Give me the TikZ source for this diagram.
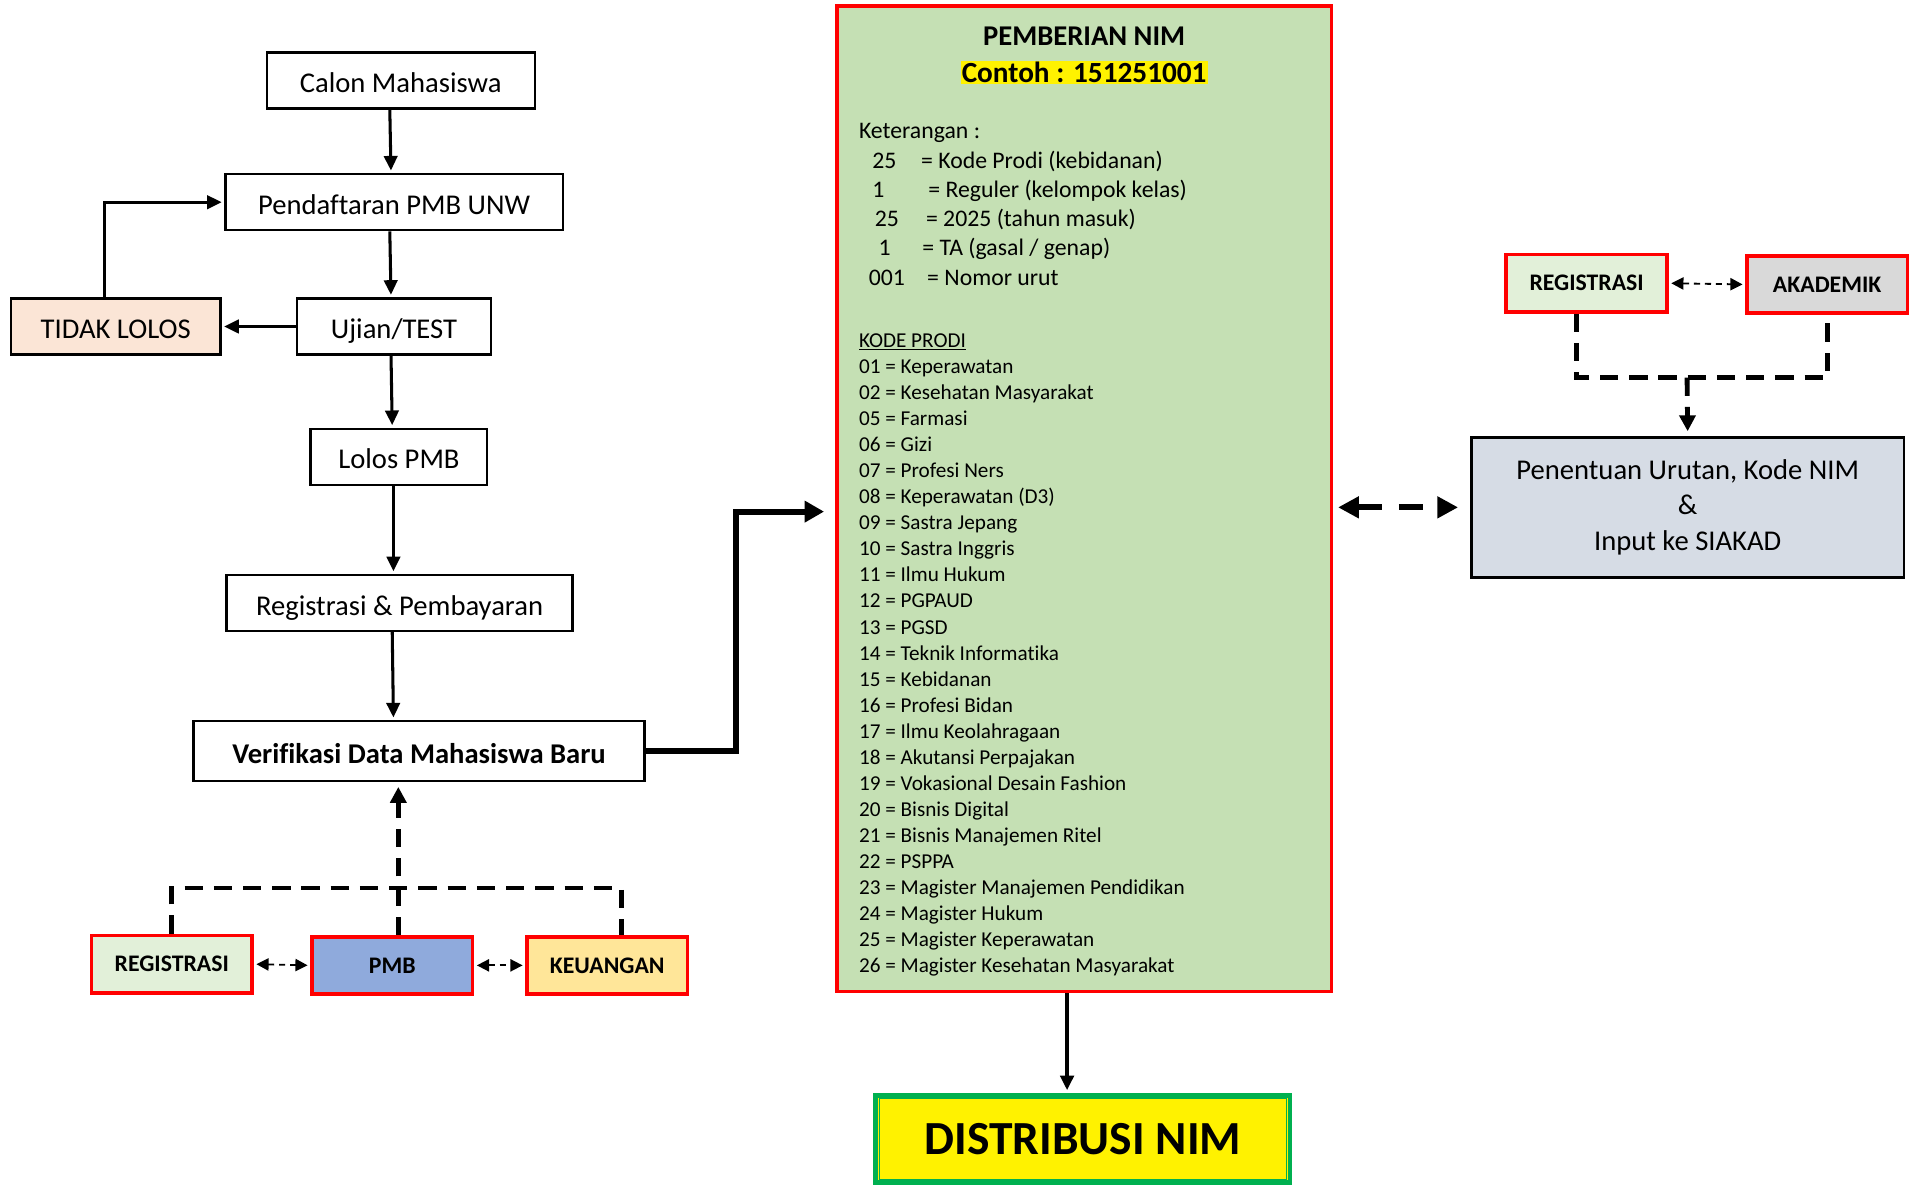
\documentclass[tikz,border=0pt]{standalone}
\usepackage{fontspec}
\setmainfont{Carlito}[Ligatures=NoCommon]
\usetikzlibrary{arrows.meta}

\definecolor{peach}{HTML}{FBE5D6}
\definecolor{regcol}{HTML}{E2F0D9}
\definecolor{pmbcol}{HTML}{8FAADC}
\definecolor{keucol}{HTML}{FFE699}
\definecolor{akagray}{HTML}{D9D9D9}
\definecolor{siakadcol}{HTML}{D6DCE5}
\definecolor{nimgreen}{HTML}{C5E0B4}
\definecolor{distgreen}{HTML}{00B050}

\tikzset{
	flowbox/.style={draw, line width=2pt, inner sep=0pt, minimum height=46pt, font=\fontsize{23.5}{28}\selectfont},
	barisbox/.style={flowbox, text height=20pt, text depth=0pt},
	unitbox/.style={draw=red, line width=3pt, inner sep=0pt, minimum width=132pt, minimum height=47pt, font=\bfseries\fontsize{19.5}{23}\selectfont},
	ket/.style={inner sep=0pt, anchor=west, text height=14pt, text depth=4pt, font=\fontsize{19.5}{23}\selectfont},
	prodi/.style={inner sep=0pt, anchor=west, text height=12.5pt, text depth=3.5pt, font=\fontsize{17.4}{20}\selectfont},
	arr/.style={line width=2.5pt, -{Triangle[length=12pt,width=11pt]}, shorten >=2pt},
	tebal/.style={line width=5pt, -{Triangle[length=16pt,width=17pt]}, shorten >=9pt},
	putus/.style={line width=4pt, dash pattern=on 15pt off 9pt},
	tipis/.style={line width=1.5pt, dash pattern=on 5pt off 4pt, {Triangle[length=10pt,width=10pt]}-{Triangle[length=10pt,width=10pt]}, shorten <=2pt, shorten >=2pt}
}

\begin{document}
\begin{tikzpicture}[x=1pt, y=-1pt]
	\useasboundingbox (0,0) rectangle (1568,975);

	\node[barisbox, minimum width=220pt] (calon) at (329,66) {Calon Mahasiswa};
	\node[barisbox, minimum width=277pt] (daftar) at (323.5,166) {Pendaftaran PMB UNW};
	\node[barisbox, minimum width=172pt, fill=peach] (tidak) at (95,268) {TIDAK LOLOS};
	\node[barisbox, minimum width=159pt] (ujian) at (323.5,268) {Ujian/TEST};
	\node[barisbox, minimum width=145pt] (lolos) at (327.5,375) {Lolos PMB};
	\node[barisbox, minimum width=284pt] (bayar) at (328,495) {Registrasi \& Pembayaran};
	\node[barisbox, minimum width=370pt, minimum height=49pt, font=\bfseries\fontsize{23.5}{28}\selectfont] (verif) at (344,616.5) {Verifikasi Data Mahasiswa Baru};

	\node[unitbox, fill=regcol] (reg) at (141,791.5) {REGISTRASI};
	\node[unitbox, fill=pmbcol] (pmb) at (322,792.5) {PMB};
	\node[unitbox, fill=keucol] (keu) at (498.5,792.5) {KEUANGAN};

	\node[draw=red, line width=3pt, fill=nimgreen, minimum width=406pt, minimum height=809pt] (nim) at (890,409.5) {};
	\node[font=\bfseries\fontsize{23.5}{28}\selectfont] (judul) at (890,29.5) {PEMBERIAN NIM};
	\node[fill=yellow, inner sep=1pt, font=\bfseries\fontsize{24}{28}\selectfont] (contoh) at (890,59.5) {Contoh : 151251001};
	\node[ket] at (705,109) {Keterangan :};
	\foreach \y/\nx/\n/\tx/\t in {133/716/25/756/{= Kode Prodi (kebidanan)}, 157/716/1/762/{= Reguler (kelompok kelas)}, 181/718/25/760/{= 2025 (tahun masuk)}, 205/721/1/757/{= TA (gasal / genap)}, 229/713/001/761/{= Nomor urut}}
	{
		\node[ket] at (\nx,\y) {\n};
		\node[ket] at (\tx,\y) {\t};
	}
	\node[prodi] at (705,281) {\underline{KODE PRODI}};
	\foreach \p [count=\i] in {01 = Keperawatan, 02 = Kesehatan Masyarakat, 05 = Farmasi, 06 = Gizi, 07 = Profesi Ners, 08 = Keperawatan (D3), 09 = Sastra Jepang, 10 = Sastra Inggris, 11 = Ilmu Hukum, 12 = PGPAUD, 13 = PGSD, 14 = Teknik Informatika, 15 = Kebidanan, 16 = Profesi Bidan, 17 = Ilmu Keolahragaan, 18 = Akutansi Perpajakan, 19 = Vokasional Desain Fashion, 20 = Bisnis Digital, 21 = Bisnis Manajemen Ritel, 22 = PSPPA, 23 = Magister Manajemen Pendidikan, 24 = Magister Hukum, 25 = Magister Keperawatan, 26 = Magister Kesehatan Masyarakat}
	{
		\node[prodi] at (705,{302+(\i-1)*21.4}) {\p};
	}

	\node[unitbox, fill=regcol] (reg2) at (1302.5,232.5) {REGISTRASI};
	\node[unitbox, fill=akagray] (akad) at (1500,233.5) {AKADEMIK};
	\node[flowbox, fill=siakadcol, minimum width=355pt, minimum height=115pt, align=center, font=\fontsize{23.5}{29}\selectfont] (siakad) at (1385.5,416.5) {Penentuan Urutan, Kode NIM\\\&\\Input ke SIAKAD};

	\node[draw=distgreen, line width=4pt, fill=yellow, minimum width=340pt, minimum height=72pt, font=\bfseries\fontsize{39}{44}\selectfont] (distr) at (889,935) {DISTRIBUSI NIM};
	\draw[distgreen, line width=1pt] ([shift={(5pt,-5pt)}]distr.north west) rectangle ([shift={(-5pt,5pt)}]distr.south east);

	\draw[arr] ([xshift=-9pt]calon.south) -- ([xshift=-2.5pt]daftar.north);
	\draw[arr] ([xshift=-3.5pt]daftar.south) -- ([xshift=-2.5pt]ujian.north);
	\draw[arr] ([xshift=-2.5pt]ujian.south) -- ([xshift=-5.5pt]lolos.north);
	\draw[arr] ([xshift=-4.5pt]lolos.south) -- ([xshift=-5pt]bayar.north);
	\draw[arr] ([xshift=-6pt]bayar.south) -- ([xshift=-21pt]verif.north);
	\draw[arr] (ujian.west) -- (tidak.east);
	\draw[arr] ([xshift=-9pt]tidak.north) |- (daftar.west);

	\coordinate (belok) at (604,420);
	\draw[tebal] (verif.east) -| (belok) -- (nim.west |- belok);

	\coordinate (bus) at (327,729);
	\draw[putus] (reg.north) |- (bus) -| ([xshift=11.5pt]keu.north);
	\draw[putus, -{Triangle[length=13pt,width=13pt]}, shorten >=4pt] (pmb.north -| bus) -- (verif.south -| bus);
	\draw[tipis] (reg.east) -- (pmb.west);
	\draw[tipis] (pmb.east) -- (keu.west);

	\draw[putus, line width=5pt, dash pattern=on 20pt off 14pt, {Triangle[length=17pt,width=17pt]}-{Triangle[length=17pt,width=17pt]}, shorten <=4pt, shorten >=10pt] (nim.east |- siakad.west) -- (siakad.west);

	\coordinate (gabung) at (1385,310);
	\draw[putus] ([xshift=-8.5pt]reg2.south) |- (gabung) -| (akad.south);
	\draw[putus, -{Triangle[length=13pt,width=13pt]}, shorten >=4pt] (gabung) -- (siakad.north);
	\draw[tipis] (reg2.east) -- (akad.west);

	\draw[arr, line width=3pt] ([xshift=-14pt]nim.south) -- ([xshift=-13pt]distr.north);
\end{tikzpicture}
\end{document}
